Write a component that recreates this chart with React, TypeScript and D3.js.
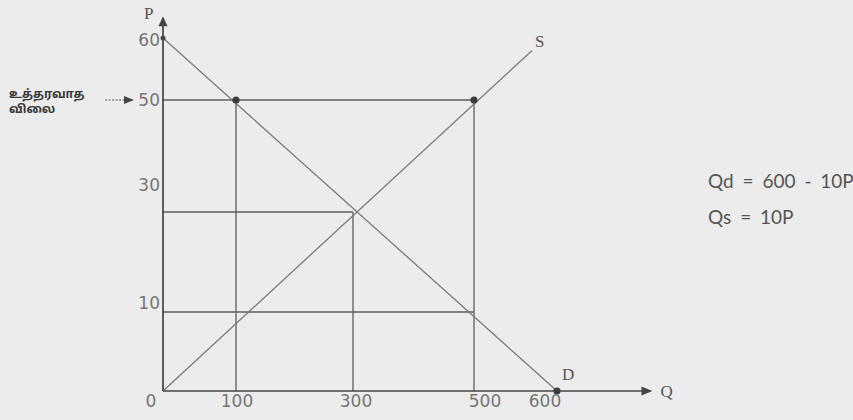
import React from "react";
import * as d3 from "d3";

// price / quantity values
const priceTicks = [60, 50, 30, 10];
const quantityTicks = [0, 100, 300, 500, 600];

// straight demand and supply lines (Q, P)
const demandLine: [number, number][] = [[0, 60], [600, 0]];
const supplyLine: [number, number][] = [[0, 0], [570, 58]];

// helper lines of the support-price diagram
const guideLines: [number, number][][] = [
  [[0, 50], [500, 50]],
  [[100, 50], [100, 0]],
  [[500, 50], [500, 0]],
  [[0, 30], [300, 30]],
  [[300, 30], [300, 0]],
  [[0, 10], [500, 10]],
];

const markedPoints: [number, number][] = [[100, 50], [500, 50], [600, 0]];
const equations = ["Qd = 600 - 10P", "Qs = 10P"];
const priceNote = ["உத்தரவாத", "விலை"];

const W = 853;
const H = 420;

export default function App() {
  // hand drawn figure: gaps between the marks are not even, so piecewise scales
  const x = d3.scaleLinear().domain([0, 100, 300, 500, 600]).range([163, 236, 353, 474, 557]);
  const y = d3.scaleLinear().domain([0, 10, 30, 50, 60]).range([391, 312, 212, 100, 38]);

  const line = d3.line<[number, number]>().x((d) => x(d[0])).y((d) => y(d[1]));

  const qMax = 715;
  const pMax = 63.5;

  // labels in the scan sit a bit off their lines
  const pNudge: Record<number, number> = { 60: 2, 50: 0, 30: -27, 10: -9 };
  const qNudge: Record<number, number> = { 0: -12, 100: 1, 300: 3, 500: 11, 600: -12 };

  const axisColor = "#454545";
  const tickFont = "'DejaVu Sans', Verdana, sans-serif";
  const serif = "'Liberation Serif', 'DejaVu Serif', serif";

  return (
    <svg width={W} height={H} style={{ position: "absolute", left: 0, top: 0 }}>
      <rect width={W} height={H} fill="#ececec" />

      {/* guide lines */}
      <g stroke="#5e5e5e" strokeWidth={1.3} fill="none">
        {guideLines.map((g, i) => (
          <path key={i} d={line(g) || ""} />
        ))}
      </g>

      {/* demand and supply */}
      <g stroke="#7a7a7a" strokeWidth={1.3} fill="none">
        <path d={line(demandLine) || ""} />
        <path d={line(supplyLine) || ""} />
      </g>

      {/* axes */}
      <g stroke={axisColor} strokeWidth={1.7}>
        <line x1={x(0)} y1={y(0)} x2={x(0)} y2={y(pMax) + 6} />
        <line x1={x(0)} y1={y(0)} x2={x(qMax) - 6} y2={y(0)} />
      </g>
      <g fill={axisColor}>
        <path d={`M${x(0)},${y(pMax)} l-4.5,10 l9,0 Z`} />
        <path d={`M${x(qMax)},${y(0)} l-11,-4.5 l0,9 Z`} />
        <circle cx={x(0)} cy={y(60)} r={2.5} />
      </g>

      {markedPoints.map((p, i) => (
        <circle key={i} cx={x(p[0])} cy={y(p[1])} r={3.6} fill="#3c3c3c" />
      ))}

      {/* tick labels */}
      <g fontFamily={tickFont} fontSize={17} fill="#767676">
        {priceTicks.map((p) => (
          <text key={p} x={x(0) - 3} y={y(p) + pNudge[p]} dy="0.36em" textAnchor="end">
            {p}
          </text>
        ))}
        {quantityTicks.map((q) => (
          <text key={q} x={x(q) + qNudge[q]} y={y(0) + 16} textAnchor="middle">
            {q}
          </text>
        ))}
      </g>

      {/* axis and curve names */}
      <g fontFamily={serif} fontSize={17} fill="#555">
        <text x={x(0) - 19} y={y(pMax) + 3}>P</text>
        <text x={x(qMax) + 8} y={y(0) + 6}>Q</text>
        <text x={x(supplyLine[1][0]) + 3} y={y(supplyLine[1][1]) - 3}>S</text>
        <text x={x(600) + 5} y={y(0) - 11}>D</text>
      </g>

      {/* support price note with arrow */}
      <g fill="#3a3a3a" fontFamily="'Noto Sans Tamil', 'Lohit Tamil', 'Noto Sans', sans-serif" fontSize={12} fontWeight="bold">
        {priceNote.map((t, i) => (
          <text key={i} x={9} y={y(50) - 2 + i * 15}>
            {t}
          </text>
        ))}
      </g>
      <line x1={x(0) - 58} y1={y(50)} x2={x(0) - 36} y2={y(50)} stroke="#555" strokeWidth={1.2} strokeDasharray="2 1.5" />
      <path d={`M${x(0) - 29},${y(50)} l-10,-4 l0,8 Z`} fill="#444" />

      {/* equations */}
      <g fontFamily="Lato, 'Open Sans', sans-serif" fontSize={19} fill="#555" wordSpacing={4}>
        {equations.map((e, i) => (
          <text key={i} x={708} y={y(30) - 24 + i * 36}>
            {e}
          </text>
        ))}
      </g>
    </svg>
  );
}
